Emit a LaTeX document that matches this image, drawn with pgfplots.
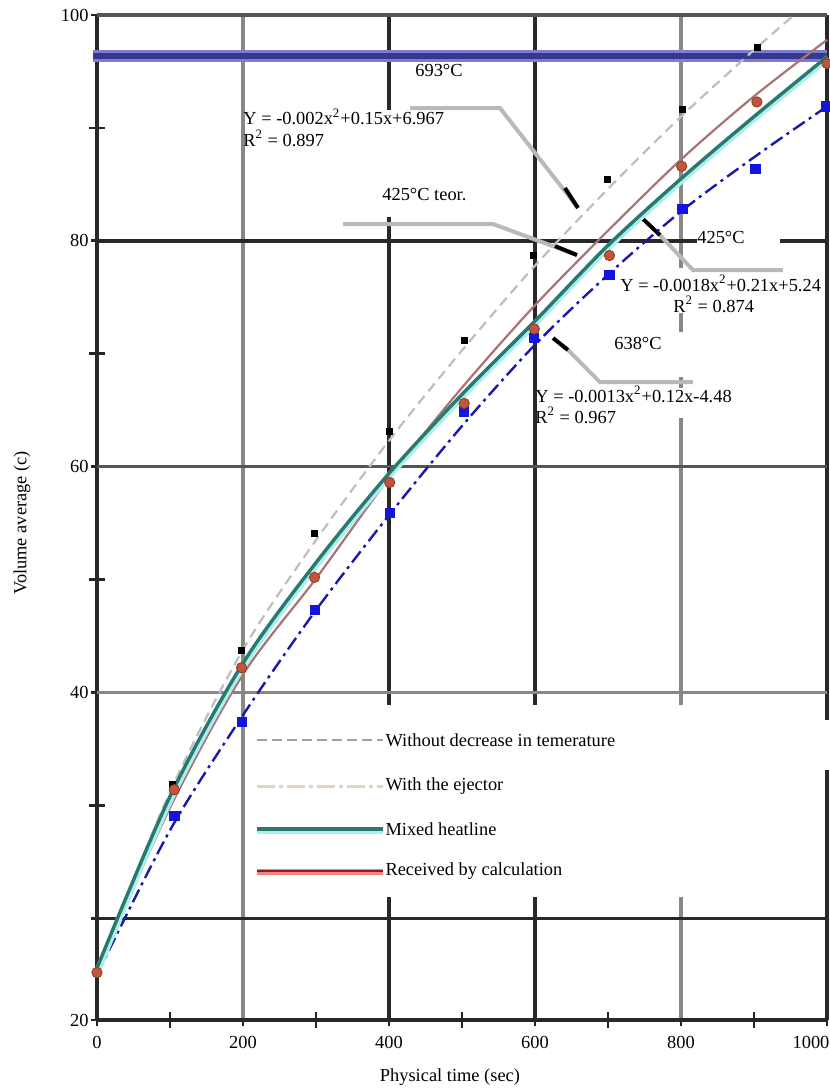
\documentclass[border=0pt]{standalone}
\usepackage{fontspec}
\setmainfont{Liberation Serif}
\usepackage{pgfplots}
\pgfplotsset{compat=1.18}
\definecolor{gdark}{RGB}{40,40,40}
\definecolor{gmid}{RGB}{85,85,85}
\definecolor{glight}{RGB}{135,135,135}
\definecolor{leadgray}{RGB}{185,185,185}
\definecolor{dashgray}{RGB}{190,190,190}
\definecolor{beige}{RGB}{226,212,190}
\definecolor{tealc}{RGB}{42,120,110}
\definecolor{cyanh}{RGB}{170,238,238}
\definecolor{rosy}{RGB}{170,115,115}
\definecolor{redcore}{RGB}{140,30,30}
\definecolor{pinkh}{RGB}{245,130,130}
\definecolor{redmark}{RGB}{192,85,60}
\definecolor{redmarkd}{RGB}{150,55,40}
\definecolor{bluel}{RGB}{25,25,170}
\definecolor{bluem}{RGB}{20,20,225}
\definecolor{bandlight}{RGB}{125,125,205}
\definecolor{banddark}{RGB}{55,55,145}
\newcommand{\vseg}[4]{\addplot[#1, line width=1.8pt, forget plot] coordinates {(#2,#3) (#2,#4)};}
\newcommand{\hseg}[4]{\addplot[#1, line width=1.8pt, forget plot] coordinates {(#3,#2) (#4,#2)};}
\begin{document}
\fontsize{9.2}{11}\selectfont
\begin{tikzpicture}
\useasboundingbox (0,0) rectangle (415pt,544pt);
\begin{axis}[
  at={(48.5pt,34pt)}, anchor=south west,
  scale only axis, width=365pt, height=502.5pt,
  xmin=0, xmax=1000, ymin=11, ymax=100,
  clip=false,
  axis line style={draw=none},
  tick pos=left, tick align=center,
  xtick={0,200,400,600,800,1000},
  xticklabels={0,200,400,600,800,\makebox[0pt]{\hspace{-16pt}1000}},
  minor xtick={100,300,500,700,900},
  ytick={11,20,40,60,80,100},
  yticklabels={20,{},40,60,80,100},
  minor ytick={30,50,70,90},
  major tick length=6pt, minor tick length=8pt,
  tick style={line width=1.4pt, color=black!85},
  xticklabel style={yshift=-2pt},
  yticklabel style={xshift=2pt},
  xlabel={Physical time (sec)},
  ylabel={Volume average (c)},
  xlabel style={at={(axis description cs:0.4835,0)}, anchor=center, yshift=-28.5pt},
  ylabel style={at={(axis description cs:0,0.4945)}, anchor=center, yshift=37.5pt},
]
% grid lines (with the gaps of the reference)
\vseg{gdark}{0}{11}{100}
\vseg{glight}{200}{11}{100}
\vseg{gdark}{400}{91.6}{100}
\vseg{gdark}{400}{38.9}{82.1}
\vseg{gdark}{400}{11}{21.9}
\vseg{gdark}{600}{38.9}{100}
\vseg{gdark}{600}{11}{21.9}
\vseg{glight}{800}{77.6}{100}
\vseg{glight}{800}{71.9}{73.6}
\vseg{glight}{800}{67.0}{67.9}
\vseg{glight}{800}{38.9}{64.3}
\vseg{glight}{800}{11}{21.9}
\vseg{gdark}{1000}{37.6}{100}
\vseg{gdark}{1000}{11}{33.1}
\hseg{gmid}{100}{0}{1000}
\hseg{gdark}{80}{0}{822}
\hseg{gdark}{80}{935.6}{1000}
\hseg{gmid}{60}{0}{1000}
\hseg{glight}{40}{0}{1000}
\hseg{gdark}{20}{0}{1000}
\hseg{gdark}{11}{0}{1000}
% 693 C band
\addplot[bandlight, line width=6pt, forget plot] coordinates {(-5,96.37) (1000,96.37)};
\addplot[banddark, line width=3.4pt, forget plot] coordinates {(-5,96.37) (1000,96.37)};
% leader lines
\addplot[leadgray, line width=2pt, forget plot] coordinates {(428.8,91.76) (552.1,91.76) (658.9,82.91)};
\addplot[black, line width=2pt, forget plot] coordinates {(641.1,84.68) (658.9,82.91)};
\addplot[leadgray, line width=2pt, forget plot] coordinates {(337.0,81.49) (542.5,81.49) (657.5,78.74)};
\addplot[black, line width=2pt, forget plot] coordinates {(627.4,79.54) (657.5,78.74)};
\addplot[leadgray, line width=2pt, forget plot] coordinates {(939.7,77.41) (816.4,77.41) (768.5,80.69)};
\addplot[black, line width=2pt, forget plot] coordinates {(748.0,81.93) (771.2,80.51)};
\addplot[leadgray, line width=2pt, forget plot] coordinates {(816.4,67.49) (689.0,67.49) (645.2,70.33)};
\addplot[black, line width=2pt, forget plot] coordinates {(624.7,71.39) (645.2,70.33)};
% annotations
\node[anchor=west, inner sep=0pt] at (axis cs:435.6,95.13) {693°C};
\node[anchor=west, inner sep=0pt] at (axis cs:200,90.97) {Y = -0.002x\textsuperscript{2}+0.15x+6.967};
\node[anchor=west, inner sep=0pt] at (axis cs:200,89.1) {R\textsuperscript{2} = 0.897};
\node[anchor=west, inner sep=0pt] at (axis cs:390.4,84.06) {425°C teor.};
\node[anchor=west, inner sep=0pt] at (axis cs:821.9,80.34) {425°C};
\node[anchor=west, inner sep=0pt] at (axis cs:716.4,76.26) {Y = -0.0018x\textsuperscript{2}+0.21x+5.24};
\node[anchor=west, inner sep=0pt] at (axis cs:789,74.4) {R\textsuperscript{2} = 0.874};
\node[anchor=west, inner sep=0pt] at (axis cs:708.2,70.95) {638°C};
\node[anchor=west, inner sep=0pt] at (axis cs:600,66.43) {Y = -0.0013x\textsuperscript{2}+0.12x-4.48};
\node[anchor=west, inner sep=0pt] at (axis cs:600,64.57) {R\textsuperscript{2} = 0.967};
% Without decrease in temperature: line and points
\addplot[dashgray, line width=1.1pt, dash pattern=on 5pt off 3pt, smooth, forget plot] coordinates {
(0,15.3) (100,31.2) (200,43.8) (300,53.5) (400,62.3) (500,70.3) (600,77.8) (700,84.6) (800,91.0) (900,96.9) (955,100)};
\addplot[only marks, mark=square*, mark size=1.5pt, black, forget plot] coordinates {
(103,31.9) (198,43.7) (298,54.1) (400,63.1) (503,71.2) (598,78.7) (699,85.4) (802,91.6) (904,97.1)};
% blue dash-dot curve and points
\addplot[bluel, line width=1.2pt, dash pattern=on 7pt off 2.5pt on 1.5pt off 2.5pt, smooth, forget plot] coordinates {
(0,15.0) (100,27.8) (200,38.0) (300,47.3) (400,55.7) (500,63.6) (600,70.8) (700,77.0) (800,82.6) (900,87.4) (1000,91.9)};
\addplot[only marks, mark=square*, mark size=2.3pt, bluem, forget plot] coordinates {
(106,29.1) (198,37.4) (298,47.3) (401,55.9) (503,64.9) (599,71.4) (702,77.0) (802,82.8) (902,86.4) (998,91.9)};
% received by calculation (rosy line)
\addplot[rosy, line width=1.1pt, smooth, forget plot] coordinates {
(0,15.4) (100,29.8) (200,41.6) (300,50.1) (400,59.0) (500,67.0) (600,74.3) (700,80.9) (800,87.2) (900,92.8) (1000,97.8)};
% mixed heatline (teal)
\addplot[cyanh, line width=3.2pt, smooth, xshift=0.6pt, yshift=-0.6pt, forget plot] coordinates {
(0,15.6) (100,30.8) (200,42.6) (300,51.5) (400,59.4) (500,66.4) (600,72.9) (700,79.6) (800,85.5) (900,91.0) (1000,96.3)};
\addplot[tealc, line width=1.7pt, smooth, forget plot] coordinates {
(0,15.6) (100,30.8) (200,42.6) (300,51.5) (400,59.4) (500,66.4) (600,72.9) (700,79.6) (800,85.5) (900,91.0) (1000,96.3)};
% calculated points
\addplot[only marks, mark=*, mark size=2.6pt, draw=redmarkd, fill=redmark, forget plot] coordinates {
(0,15.2) (106,31.4) (198,42.2) (298,50.2) (401,58.6) (503,65.6) (599,72.2) (702,78.7) (801,86.6) (904,92.3) (1000,95.7)};
% legend
\addplot[dashgray!85!black, line width=1.1pt, dash pattern=on 5pt off 2.5pt, forget plot] coordinates {(219.3,35.78) (391.9,35.78)};
\addplot[beige, line width=1.6pt, dash pattern=on 9pt off 2pt on 2pt off 2pt, forget plot] coordinates {(219.3,31.71) (391.9,31.71)};
\addplot[cyanh, line width=3.6pt, yshift=-0.5pt, forget plot] coordinates {(219.3,27.90) (391.9,27.90)};
\addplot[tealc, line width=2.0pt, forget plot] coordinates {(219.3,27.90) (391.9,27.90)};
\addplot[pinkh, line width=2.6pt, yshift=-0.4pt, forget plot] coordinates {(219.3,24.18) (391.9,24.18)};
\addplot[redcore, line width=1.3pt, forget plot] coordinates {(219.3,24.18) (391.9,24.18)};
\node[anchor=west, inner sep=0pt] at (axis cs:394.7,35.78) {Without decrease in temerature};
\node[anchor=west, inner sep=0pt] at (axis cs:394.7,31.71) {With the ejector};
\node[anchor=west, inner sep=0pt] at (axis cs:394.7,27.90) {Mixed heatline};
\node[anchor=west, inner sep=0pt] at (axis cs:394.7,24.18) {Received by calculation};
\end{axis}
\end{tikzpicture}
\end{document}
